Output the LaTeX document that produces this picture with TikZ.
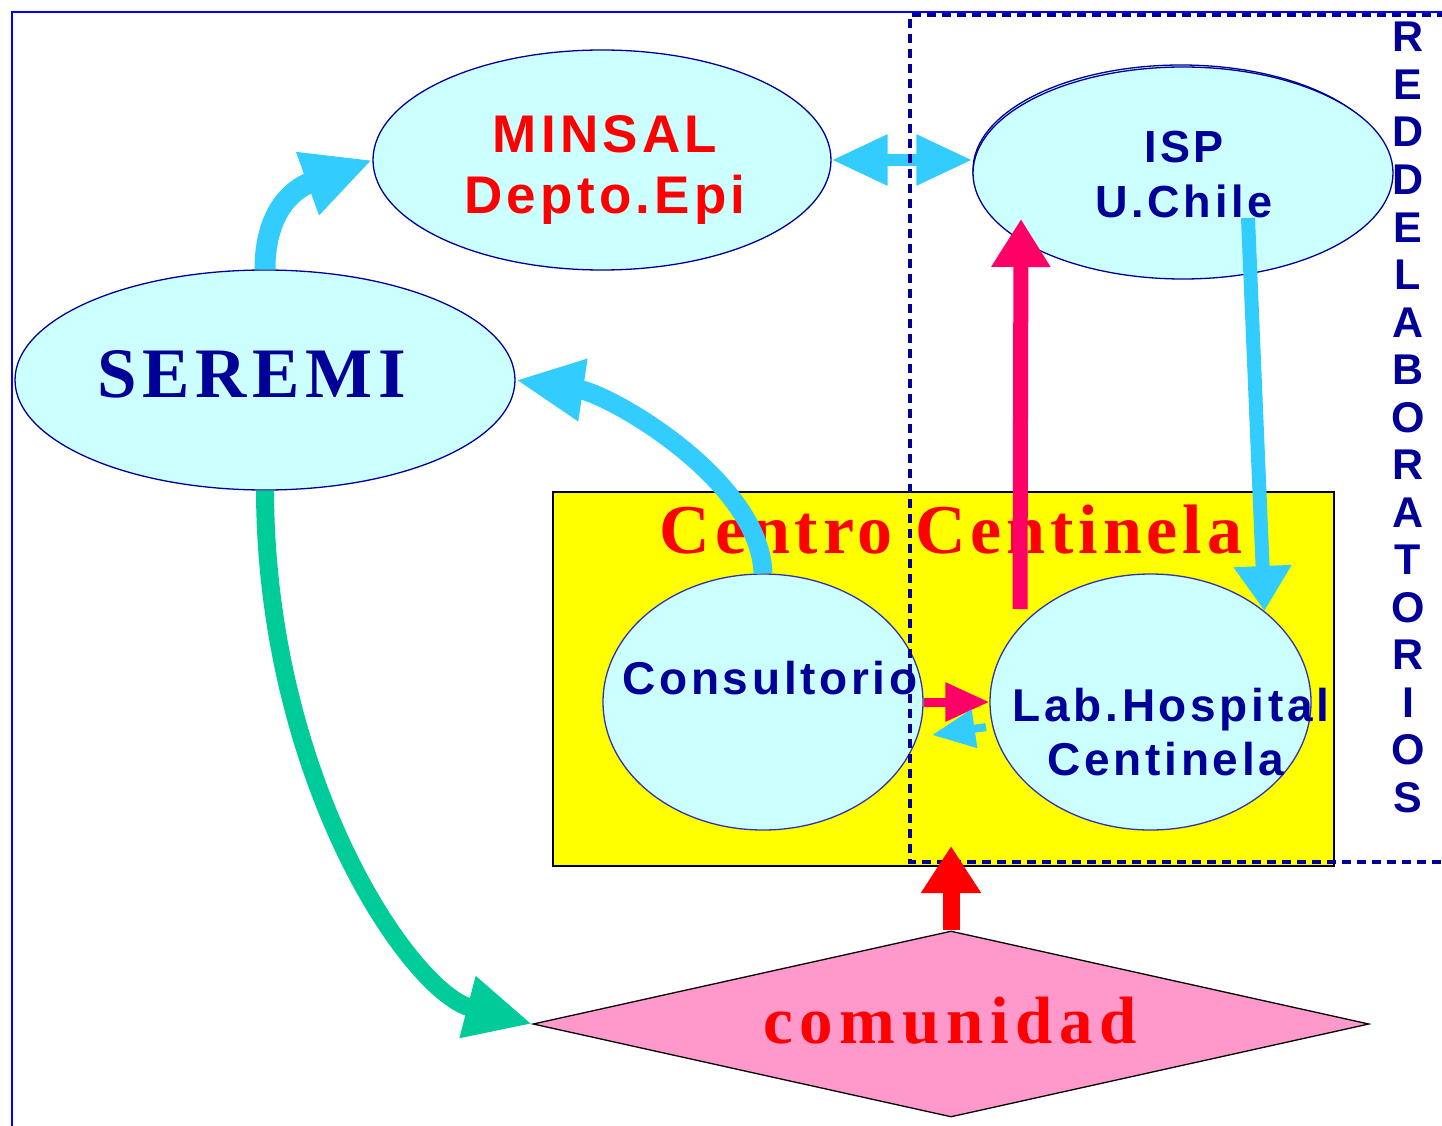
\documentclass[tikz,border=0pt]{standalone}
\usepackage{fontspec}
\setmainfont{Liberation Serif}
\newfontfamily\arsA{Liberation Sans}[LetterSpace=8]
\newfontfamily\arsV{Liberation Sans}
\newfontfamily\tmsA{Liberation Serif}[LetterSpace=8]
\newfontfamily\tmsB{Liberation Serif}[LetterSpace=7]
\newfontfamily\tmsC{Liberation Serif}[LetterSpace=10]
\usetikzlibrary{shapes.geometric,arrows.meta,calc}
\definecolor{navy}{HTML}{000099}
\definecolor{framec}{HTML}{0000FF}
\definecolor{ellfill}{HTML}{CCFFFF}
\definecolor{arrcyan}{HTML}{33CCFF}
\definecolor{arrgreen}{HTML}{00CC99}
\definecolor{arrpink}{HTML}{FF0066}
\definecolor{arrred}{HTML}{FF0000}
\definecolor{yel}{HTML}{FFFF00}
\definecolor{dpink}{HTML}{FF99CC}
\begin{document}
\begin{tikzpicture}[x=1pt,y=-1pt,
  ell/.style={ellipse, draw=navy, fill=ellfill, line width=1.3pt, inner sep=0pt},
  txt/.style={anchor=base, inner sep=0pt},
  cyanarr/.style={draw=arrcyan},
  pinkarr/.style={draw=arrpink},
  greenarr/.style={draw=arrgreen},
  redarr/.style={draw=arrred}]
\useasboundingbox (0,0) rectangle (1442,1126);
\fill[white] (0,0) rectangle (1442,1126);
\draw[framec, line width=2pt] (12,1130) -- (12,12) -- (1446,12);

% shapes
\node[ell, minimum width=458, minimum height=220] (minsal) at (602,160) {};
\node[ell, minimum width=416, minimum height=210] (ispback) at (1181,170) {};
\node[ell, minimum width=420, minimum height=212] (isp) at (1183,173) {};
\node[ell, minimum width=500, minimum height=220] (seremi) at (265,380) {};
\node[draw=black, fill=yel, line width=1.3pt, inner sep=0pt, minimum width=781, minimum height=374] (centro) at (943.5,679) {};
\node[ell, draw=navy!80, minimum width=320, minimum height=256] (cons) at (763,702) {};
\node[ell, draw=navy!80, minimum width=321, minimum height=256] (lab) at (1150.5,702) {};
\node[diamond, draw=black, fill=dpink, line width=1.3pt, inner sep=0pt, minimum width=836, minimum height=186] (com) at (951,1024) {};

% texts
\node[txt, text=red, font=\arsA\bfseries\fontsize{53}{60}\selectfont] (tminsal) at (605,153) {MINSAL};
\node[txt, text=red, font=\arsA\bfseries\fontsize{53}{60}\selectfont] (tdepto) at (605,213) {Depto.Epi};
\node[txt, text=navy, font=\arsA\bfseries\fontsize{45}{50}\selectfont] (tisp) at (1184,163) {ISP};
\node[txt, text=navy, font=\arsA\bfseries\fontsize{45}{50}\selectfont] (tuch) at (1184,218) {U.Chile};
\node[txt, text=navy, font=\tmsA\bfseries\fontsize{71}{80}\selectfont] (tseremi) at (252,397) {SEREMI};
\node[txt, text=arrred, font=\tmsB\bfseries\fontsize{70}{80}\selectfont] (tcentro) at (951,553) {Centro Centinela};
\node[txt, text=navy, font=\arsA\bfseries\fontsize{46}{50}\selectfont] (tcons) at (770,694) {Consultorio};
\node[txt, text=navy, font=\arsA\bfseries\fontsize{46}{50}\selectfont] (tlab) at (1171,721) {Lab.Hospital};
\node[txt, text=navy, font=\arsA\bfseries\fontsize{46}{50}\selectfont] (tcent) at (1166,775) {Centinela};
\node[txt, text=arrred, font=\tmsC\bfseries\fontsize{67}{75}\selectfont] (tcom) at (950,1043) {comunidad};
\foreach \l [count=\i from 0] in {R,E,D,D,E,L,A,B,O,R,A,T,O,R,I,O,S}
  \node[txt, text=navy, font=\arsV\bfseries\fontsize{43}{48}\selectfont] (v\i) at (1408,52+47.5*\i) {\l};

% coordinates
\coordinate (ispout) at (1248,218);
\coordinate (labout) at (1020,609);
\coordinate (ispin) at (1021,219);
\coordinate (labin) at (986,727);
\coordinate (consin) at (932,735);
\coordinate (comtip) at (951,846);

% arrows
\draw[cyanarr, line width=21pt, -{Triangle[length=69pt,width=62pt]}]
  (seremi.north) .. controls (265,215) and (290,190) .. (minsal.west);
\draw[cyanarr, line width=19pt, -{Triangle[length=68pt,width=58pt]}]
  (cons.north) .. controls (760,480) and (610,394) .. (seremi.east);
\draw[greenarr, line width=18pt, -{Triangle[length=67pt,width=59pt]}]
  (seremi.south) .. controls (266,780) and (410,992) .. (com.west);
\draw[cyanarr, line width=12pt, {Triangle[length=56pt,width=48pt]}-{Triangle[length=56pt,width=48pt]}]
  (minsal.east) -- (minsal.east -| isp.west);
\draw[cyanarr, line width=14pt, -{Triangle[length=45pt,width=55pt]}] (ispout) -- (lab.north east);
\draw[pinkarr, line width=15pt, -{Triangle[length=48pt,width=56pt]}] (labout) -- (ispin);
\draw[pinkarr, line width=9pt, -{Triangle[length=44pt,width=37pt]}] (cons.east) -- (lab.west);
\draw[cyanarr, line width=8pt, -{Triangle[length=43pt,width=37pt]}] (labin) -- (consin);

% dashed region
\draw[navy, line width=3.5pt, dash pattern=on 9pt off 6pt] (1446,15) -- (910,15) -- (910,862) -- (1446,862);

\draw[redarr, line width=17pt, -{Triangle[length=47pt,width=57pt]}] (com.north) -- (comtip);
\end{tikzpicture}
\end{document}
